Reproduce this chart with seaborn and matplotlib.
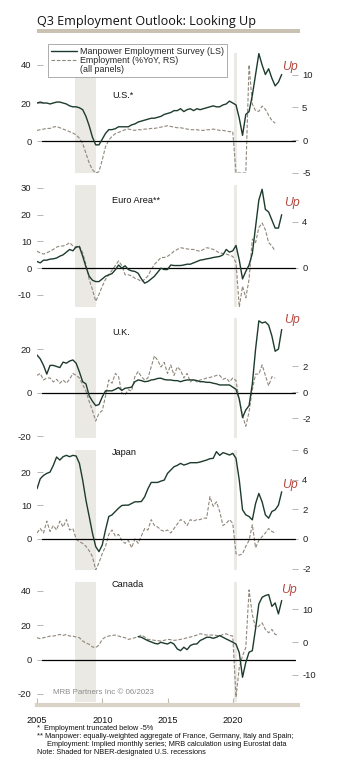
import numpy as np
import pandas as pd
import matplotlib
matplotlib.use("Agg")
import matplotlib.pyplot as plt
import seaborn as sns
from matplotlib.lines import Line2D
from matplotlib.patches import Rectangle

sns.set_style("white")
plt.rcParams['font.family'] = ['Liberation Sans', 'DejaVu Sans']

# ---------------- data (quarterly, first point = 2005Q1) ----------------
panel_names = ["U.S.*", "Euro Area**", "U.K.", "Japan", "Canada"]
mp_start = 2005.0
emp_start = 2005.0

us_mp = [20, 20.5, 20, 20, 19.5, 20, 20.5, 20.5, 20, 19.5, 18.5, 18, 18, 17.5, 16.5, 13,
         8, 2, -2, -2, 1, 4, 6, 6, 6.5, 7.5, 7.5, 7.5, 7.5, 8.5, 9, 10,
         10.5, 11, 11.5, 12, 12, 12.5, 13, 14, 14.5, 15, 16, 16, 17, 15.5, 16.5, 17,
         16, 17, 16.5, 17, 17.5, 18, 18.5, 18, 18, 19, 19.5, 21,
         20, 19, 12, 3, 14, 15.5, 24, 35, 46, 40, 35, 38, 33, 29, 31, 35]
us_emp = [1.5, 1.6, 1.7, 1.8, 1.8, 2.0, 2.1, 1.9, 1.7, 1.5, 1.3, 1.1, 0.8, 0.3, -0.5, -2.0,
          -3.5, -4.5, -5.0, -4.8, -3.0, -1.0, 0.0, 0.6, 1.0, 1.2, 1.4, 1.6, 1.7, 1.6, 1.5, 1.6,
          1.6, 1.7, 1.7, 1.8, 1.8, 1.9, 2.0, 2.1, 2.2, 2.1, 2.0, 1.9, 1.9, 1.8, 1.7, 1.6,
          1.6, 1.6, 1.5, 1.5, 1.6, 1.6, 1.7, 1.6, 1.5, 1.5, 1.4, 1.3,
          1.3, -5, -5, -5, -5, 11.5, 5.5, 4.5, 4.4, 5.2, 4.7, 3.8, 3.0, 2.6]

ea_mp = [2.5, 2, 3, 3, 3.4, 3.5, 3.8, 4.5, 5, 6, 7, 6.5, 8, 8, 4.5, 0.5,
         -3, -4.5, -5, -5, -4, -3, -2.5, -2, -0.6, 1.2, 0, 0.9, -0.5, -1, -1.2, -1.9,
         -4, -5.6, -5, -4, -3, -1.5, 0, -0.5, -0.5, 1.2, 1, 1, 1, 1.2, 1.5, 1.5,
         2, 2.5, 3, 3.2, 3.5, 3.7, 4, 4.2, 4.4, 5, 7, 6,
         6.5, 8.5, 3, -4, -1.2, 1.2, 5.5, 15.5, 25.5, 29.5, 22, 21, 18, 15, 15, 20]
ea_emp = [1.45, 1.3, 1.2, 1.3, 1.45, 1.6, 1.8, 1.9, 1.9, 2.0, 2.2, 1.9, 1.75, 1.9, 1.3, 0.3,
          -1.0, -1.9, -2.9, -2.3, -1.6, -1.0, -0.6, -0.2, 0.2, 0.6, 0.2, -0.6, -0.6, -0.7, -0.9, -1.0,
          -1.2, -1.0, -0.7, -0.15, 0.3, 0.6, 0.9, 0.9, 1.0, 1.2, 1.45, 1.6, 1.75, 1.7, 1.65, 1.6,
          1.6, 1.5, 1.45, 1.6, 1.75, 1.7, 1.6, 1.45, 1.3, 1.25, 1.2, 1.1,
          1.0, 0.45, -3.4, -1.6, -2.6, -1.0, 2.5, 2.2, 3.5, 3.9, 3.3, 2.2, 1.9, 1.45]

uk_mp = [17.3, 15.5, 12.5, 8.5, 12.5, 12.5, 12, 11.5, 14, 13.5, 14.5, 15, 13.5, 9.5, 5, 4,
         -1.5, -4, -6, -5.5, -2, 0.8, 0.8, 0.8, 1.5, 2.3, 1, 2, 2.2, 2.5, 5, 5.8,
         5.5, 5, 5.2, 5.8, 6, 6.5, 6.6, 6, 5.8, 5.8, 5.5, 5.5, 5, 5.5, 5.8, 5.8,
         5.8, 5.5, 5, 5, 4.7, 4.7, 4.3, 4, 3.5, 3.5, 3.5, 3.5,
         2.5, 1.5, -3, -11.5, -8, -6, 4, 20, 33, 32, 32.5, 31, 26, 19, 20, 29]
uk_emp = [1.3, 1.45, 0.95, 1.1, 1.1, 0.8, 1.0, 0.7, 0.95, 0.7, 1.0, 1.45, 1.3, 1.1, 0.6, 0.1,
          -0.7, -1.4, -2.2, -1.6, -1.4, -0.3, 0.95, 0.7, 1.45, 1.2, -0.05, -0.2, 0.2, 0.1, 1.2, 1.6,
          1.2, 0.95, 1.1, 1.95, 2.8, 2.45, 1.95, 2.3, 1.45, 2.1, 1.3, 1.95, 1.7, 1.1, 1.45, 0.8,
          1.0, 0.8, 0.95, 1.0, 1.1, 1.15, 1.2, 1.3, 1.3, 1.0, 1.1, 0.8,
          1.1, 0.9, -0.6, -1.8, -2.6, -1.5, 0.2, 1.4, 1.4, 2.1, 1.3, 0.5, 1.2, 1.1]

jp_mp = [15, 18, 19, 19.6, 20, 22, 24.5, 23.6, 24.6, 25, 24.6, 25, 24.8, 22.6, 17.6, 11.6,
         6.7, 1.7, -2.3, -3.8, -1.8, 2.7, 6.7, 7.2, 8.2, 9.2, 10, 10.1, 10.1, 10.6, 11.1, 11.1,
         11.2, 12.6, 15, 16.9, 16.9, 16.9, 17.3, 17.6, 19.6, 20.6, 21.6, 22, 22.6, 22.1, 22.4, 22.8,
         22.8, 22.8, 23, 23.3, 23.6, 24, 24.1, 26.1, 25, 25.8, 25.5, 25.1,
         25.6, 24.1, 17.6, 8.7, 7.2, 6.7, 5.7, 10.6, 13.6, 11.1, 7.2, 6.2, 8.2, 8.7, 10.1, 14.1]
jp_emp = [0.4, 0.7, 0.4, 1.2, 0.5, 0.9, 0.6, 1.2, 0.8, 1.3, 0.6, 0.7, 0.0, -0.2, -0.3, -0.5,
          -0.8, -1.2, -2.1, -1.6, -1.0, -0.5, 0.3, 0.6, 0.2, 0.3, -0.1, -0.3, -0.1, -0.6, 0.0, -0.3,
          0.2, 0.7, 0.6, 1.3, 0.9, 0.8, 0.6, 0.5, 0.6, 0.4, 0.7, 1.0, 1.3, 1.2, 0.9, 1.3,
          1.2, 1.3, 1.3, 1.4, 1.4, 2.85, 2.2, 2.5, 1.85, 0.9, 1.05, 1.3,
          1.05, -1.0, -1.1, -1.0, -0.5, -0.1, 0.95, -0.6, -0.1, 0.15, 0.4, 0.7, 0.5, 0.4]

ca_mp = [np.nan] * 31 + [13.4,
         13, 12, 11, 10.3, 9.5, 9.1, 10.1, 9.5, 9.1, 10.1, 9, 6.2, 5.2, 7.2, 5.8, 8.2,
         9, 9.1, 11.1, 12, 13, 13, 12.4, 13, 14, 13, 12, 11.1,
         10.1, 9, 4, -10.3, -1.6, 4.3, 5.2, 18, 32.4, 36.3, 37.3, 37.9, 31, 33, 26.6, 34.4]
ca_emp = [1.3, 1.0, 1.3, 1.5, 1.8, 1.8, 2.0, 2.3, 2.0, 2.3, 1.8, 1.8, 1.5, 1.3, 0.3, -0.3,
          -0.7, -1.5, -1.7, -0.9, 0.8, 1.5, 1.8, 2.0, 2.1, 1.8, 1.5, 1.3, 0.8, 1.0, 1.3, 1.6,
          2.1, 1.5, 0.8, 0.7, 0.5, 0.4, 0.3, 0.5, 0.8, 0.7, 0.5, 0.6, 0.8, 1.0, 1.3, 1.5,
          1.8, 2.1, 2.5, 2.3, 2.1, 2.1, 2.1, 2.0, 1.8, 2.3, 2.5, 2.0,
          1.8, -16.7, -7.7, -4.2, -1.7, 15.8, 8.3, 4.3, 4.8, 5.8, 3.8, 2.8, 3.8, 2.3, 2.1]

manpower = [us_mp, ea_mp, uk_mp, jp_mp, ca_mp]
employment = [us_emp, ea_emp, uk_emp, jp_emp, ca_emp]

left_lims = [(-16.8, 46.3), (-14.5, 31.1), (-20.9, 34.3), (-9.3, 26.6), (-24.7, 45.2)]
right_lims = [(-5.0, 13.3), (-3.4, 7.2), (-3.5, 5.7), (-2.1, 6.0), (-18.2, 18.2)]
left_ticks = [[0, 20, 40], [-10, 0, 10, 20, 30], [-20, 0, 20], [0, 10, 20], [-20, 0, 20, 40]]
right_ticks = [[-5, 0, 5, 10], [0, 4], [-2, 0, 2], [-2, 0, 2, 4, 6], [-10, 0, 10]]
recessions = [(2007.92, 2009.5), (2020.1, 2020.36)]
year_ticks = [2005, 2010, 2015, 2020]

title = "Q3 Employment Outlook: Looking Up"
legend_labels = ["Manpower Employment Survey (LS)", "Employment (%YoY, RS)", "(all panels)"]
footnotes = ["*  Employment truncated below -5%",
             "** Manpower: equally-weighted aggregate of France, Germany, Italy and Spain;",
             "     Employment: Implied monthly series; MRB calculation using Eurostat data",
             "Note: Shaded for NBER-designated U.S. recessions"]
source = "MRB Partners Inc \u00a9 06/2023"

# ---------------- style ----------------
GREEN = '#1d3b2c'
DASH = '#8f877a'
SHADE = '#ebe9e4'
TAN = '#c9c1b1'
UPC = '#b5493f'
W, H = 338, 781

fig = plt.figure(figsize=(W / 100, H / 100), dpi=100)

tops = [53, 185, 318, 450, 582]
heights = [120, 122, 120, 120, 120]
L = 37 / W
AW = 261 / W
name_pos = [0.65, 0.877, 0.883, 0.983, 0.983]
up_pos = [(0.969, 0.883), (0.977, 0.852), (0.977, 0.983), (0.969, 0.708), (0.966, 0.933)]

for i in range(5):
    top, h = tops[i], heights[i]
    ax = fig.add_axes([L, 1 - (top + h) / H, AW, h / H])
    ax2 = ax.twinx()
    # shading lives on the lower (right-scale) axes, behind everything
    for s, e in recessions:
        ax2.axvspan(s, e, color=SHADE, lw=0, zorder=0)
    mp = np.array(manpower[i], dtype=float)
    em = np.array(employment[i], dtype=float)
    df_mp = pd.DataFrame({'year': mp_start + np.arange(len(mp)) / 4, 'value': mp}).dropna()
    df_em = pd.DataFrame({'year': emp_start + np.arange(len(em)) / 4, 'value': em})
    sns.lineplot(data=df_em, x='year', y='value', ax=ax2, color=DASH, lw=0.8,
                 linestyle=(0, (3.2, 1.6)), zorder=2)
    ax.axhline(0, xmin=0.019, xmax=0.988, color='black', lw=0.9, zorder=1)
    sns.lineplot(data=df_mp, x='year', y='value', ax=ax, color=GREEN, lw=1.0, zorder=3)
    ax.set_zorder(ax2.get_zorder() + 1)
    ax.patch.set_visible(False)
    ax.set_xlim(2005, 2025)
    ax.set_ylim(*left_lims[i])
    ax2.set_ylim(*right_lims[i])
    ax.set_yticks(left_ticks[i])
    ax2.set_yticks(right_ticks[i])
    ax.set_yticklabels([str(t) for t in left_ticks[i]])
    ax2.set_yticklabels([str(t) for t in right_ticks[i]])
    for a in (ax, ax2):
        a.set_xlabel('')
        a.set_ylabel('')
        for sp in a.spines.values():
            sp.set_visible(False)
    ax.tick_params(axis='y', direction='in', length=4, width=0.6, color='#aaaaaa',
                   labelsize=6.8, pad=4, labelcolor='#222222', left=True)
    ax2.tick_params(axis='y', direction='in', length=4, width=0.6, color='#aaaaaa',
                    labelsize=6.8, pad=3, labelcolor='#222222', right=True)
    ax.text(0.287, name_pos[i], panel_names[i], transform=ax.transAxes,
            va='center', ha='left', fontsize=6.6, color='#111111')
    ax.text(up_pos[i][0], up_pos[i][1], "Up", transform=ax.transAxes, va='center',
            ha='center', fontsize=8.8, style='italic', color=UPC)
    if i < 4:
        ax.tick_params(axis='x', bottom=False, labelbottom=False)
        ax2.tick_params(axis='x', bottom=False, labelbottom=False)
    else:
        ax.set_xticks(year_ticks)
        ax.set_xticklabels([str(y) for y in year_ticks])
        ax.spines['bottom'].set_visible(True)
        ax.spines['bottom'].set_color('#d9d3c7')
        ax.spines['bottom'].set_linewidth(3)
        ax.spines['bottom'].set_position(('outward', 2))
        ax.tick_params(axis='x', direction='in', length=5, width=0.8, color='#c2baab',
                       labelsize=6.6, pad=8, labelcolor='#111111', bottom=True)
        ax.text(0.061, 0.075, source, transform=ax.transAxes, fontsize=5.7,
                color='#8c8c8c', va='center', ha='left')

# title and bar
fig.text(L, 1 - 25 / H, title, fontsize=9.1, family=['Open Sans', 'DejaVu Sans'],
         va='baseline', ha='left', color='#111111')
fig.patches.append(Rectangle((L, 1 - 33 / H), 263 / W, 4 / H, transform=fig.transFigure,
                             color=TAN, lw=0))

# legend
handles = [Line2D([], [], color=GREEN, lw=1.0),
           Line2D([], [], color=DASH, lw=0.8, linestyle=(0, (3.2, 1.6))),
           Line2D([], [], color='none', lw=0)]
leg = fig.legend(handles, legend_labels, loc='upper left',
                 bbox_to_anchor=(48 / W, 1 - 44 / H), borderaxespad=0,
                 fontsize=6.4, frameon=True, fancybox=False, framealpha=1,
                 edgecolor='#a0a0a0', handlelength=3.0, handletextpad=0.3,
                 labelspacing=0.02, borderpad=0.3)
leg.get_frame().set_linewidth(0.6)

# footnotes
fy = [728, 737, 745, 753]
for t, y in zip(footnotes, fy):
    fig.text(L, 1 - y / H, t, fontsize=5.3, va='center', ha='left', color='#111111')

fig.savefig("out.png", dpi=100)
